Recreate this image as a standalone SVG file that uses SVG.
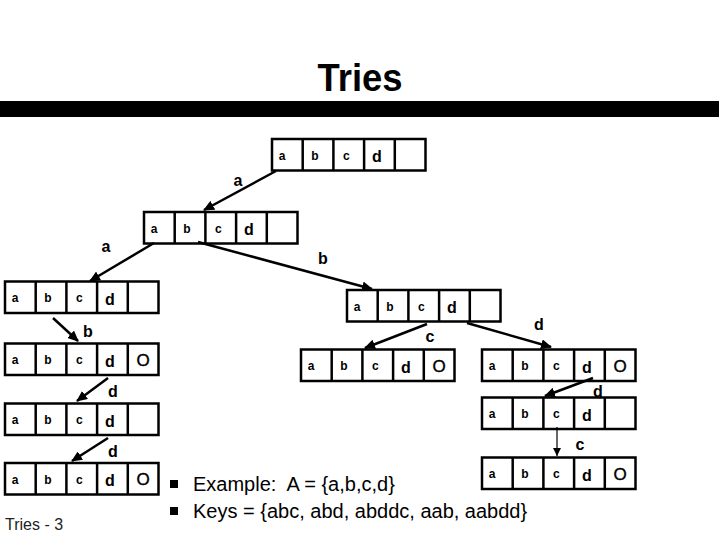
<svg xmlns="http://www.w3.org/2000/svg" xmlns:xlink="http://www.w3.org/1999/xlink" width="719" height="539" viewBox="0 0 719 539">
<style>
.fr{fill:none;stroke:#000;stroke-width:2.5}
.s{font-family:"Liberation Sans",Arial,sans-serif;font-size:12px;font-weight:bold;text-anchor:middle;fill:#000}
.d{font-family:"Liberation Sans",Arial,sans-serif;font-size:16px;font-weight:bold;text-anchor:middle;fill:#000}
.o{font-family:"Liberation Sans",Arial,sans-serif;font-size:17px;text-anchor:middle;fill:#000;stroke:#000;stroke-width:0.4}
.lb{font-family:"Liberation Sans",Arial,sans-serif;font-size:16px;font-weight:bold;text-anchor:middle;fill:#000}
.ln{stroke:#000;stroke-width:2.5;fill:none;marker-end:url(#ah)}
.thin{stroke:#000;stroke-width:1.2;fill:none;marker-end:url(#ahs)}
.tx{font-family:"Liberation Sans",Arial,sans-serif;font-size:20px;fill:#000}
</style>
<defs>
<marker id="ah" markerWidth="12" markerHeight="10" refX="10" refY="5" orient="auto" markerUnits="userSpaceOnUse"><path d="M0 0L11 5L0 10Z" fill="#000"/></marker>
<marker id="ahs" markerWidth="9" markerHeight="8" refX="8" refY="4" orient="auto" markerUnits="userSpaceOnUse"><path d="M0 0L8 4L0 8Z" fill="#000"/></marker>
<g id="frame" class="fr"><rect x="0" y="0" width="153.5" height="31.5"/><path d="M30.7 0V31.5M61.4 0V31.5M92.1 0V31.5M122.8 0V31.5"/></g>
<g id="lbl"><text class="s" x="10" y="20.5">a</text><text class="s" x="43" y="20.5">b</text><text class="s" x="74.4" y="20.5">c</text><text class="d" x="104.8" y="23">d</text></g>
</defs>
<text x="360" y="91" style="font-family:'Liberation Sans',Arial,sans-serif;font-size:38px;font-weight:bold;text-anchor:middle" textLength="85" lengthAdjust="spacingAndGlyphs">Tries</text>
<rect x="0" y="101" width="719" height="16" fill="#000"/>

<g id="n1" transform="translate(272,139)"><use href="#frame"/><use href="#lbl"/></g>
<g id="n2" transform="translate(144,212)"><use href="#frame"/><use href="#lbl"/></g>
<g id="n3" transform="translate(5,281.5)"><use href="#frame"/><use href="#lbl"/></g>
<g id="n4" transform="translate(5,343.5)"><use href="#frame"/><use href="#lbl"/><text class="o" x="138.2" y="22">O</text></g>
<g id="n5" transform="translate(5,403.5)"><use href="#frame"/><use href="#lbl"/></g>
<g id="n6" transform="translate(5,463)"><use href="#frame"/><use href="#lbl"/><text class="o" x="138.2" y="22">O</text></g>
<g id="n7" transform="translate(347,290)"><use href="#frame"/><use href="#lbl"/></g>
<g id="n8" transform="translate(301,349.5)"><use href="#frame"/><use href="#lbl"/><text class="o" x="138.2" y="22">O</text></g>
<g id="n9" transform="translate(482,349.5)"><use href="#frame"/><use href="#lbl"/><text class="o" x="138.2" y="22">O</text></g>
<g id="n10" transform="translate(482,397.5)"><use href="#frame"/><use href="#lbl"/></g>
<g id="n11" transform="translate(482,457.5)"><use href="#frame"/><use href="#lbl"/><text class="o" x="138.2" y="22">O</text></g>

<g id="connectors">
<path class="ln" d="M276 171L204 210"/>
<path class="ln" d="M154 243L90 281"/>
<path class="ln" d="M198 242L372 289"/>
<path class="ln" d="M53 318L78 341"/>
<path class="ln" d="M108 378L77 401"/>
<path class="ln" d="M108 438L72 461"/>
<path class="ln" d="M427 324L365 348"/>
<path class="ln" d="M467 323L551 347"/>
<path class="ln" d="M593 378L545 396"/>
<path class="thin" d="M557 427L557 456"/>
<text class="lb" x="238" y="186">a</text>
<text class="lb" x="106" y="252">a</text>
<text class="lb" x="323" y="264">b</text>
<text class="lb" x="88" y="337">b</text>
<text class="lb" x="113" y="397">d</text>
<text class="lb" x="113" y="457">d</text>
<text class="lb" x="430" y="342">c</text>
<text class="lb" x="539" y="330">d</text>
<text class="lb" x="598" y="397">d</text>
<text class="lb" x="580" y="450">c</text>
</g>

<rect x="170" y="480" width="8" height="8" fill="#000"/>
<text class="tx" x="193" y="491" xml:space="preserve">Example:  A = {a,b,c,d}</text>
<rect x="170" y="507" width="8" height="8" fill="#000"/>
<text class="tx" x="193" y="518">Keys = {abc, abd, abddc, aab, aabdd}</text>
<text x="5" y="530" style="font-family:'Liberation Sans',Arial,sans-serif;font-size:16px;fill:#222">Tries - 3</text>
</svg>
